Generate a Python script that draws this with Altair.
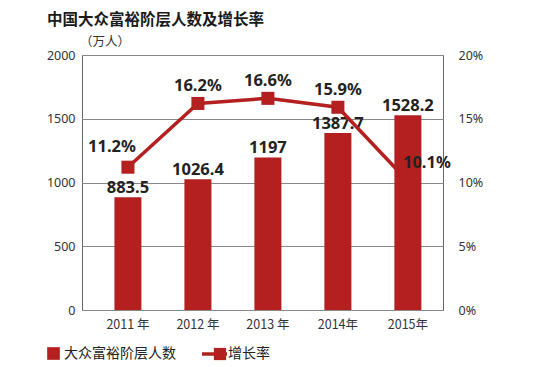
import altair as alt
import pandas as pd

title_text = "中国大众富裕阶层人数及增长率"
unit_text = "（万人）"
years = ["2011 年", "2012 年", "2013 年", "2014年", "2015年"]
people = [883.5, 1026.4, 1197, 1387.7, 1528.2]
people_labels = ["883.5", "1026.4", "1197", "1387.7", "1528.2"]
rates = [11.2, 16.2, 16.6, 15.9, 10.1]
rate_labels = ["11.2%", "16.2%", "16.6%", "15.9%", "10.1%"]
left_ticks = [0, 500, 1000, 1500, 2000]
right_ticks = [0, 0.05, 0.10, 0.15, 0.20]
legend_bar = "大众富裕阶层人数"
legend_line = "增长率"

RED = "#b3201f"
FONT = "Noto Sans CJK SC"
NUMFONT = "Noto Sans"

df = pd.DataFrame({
    "year": years,
    "people": people,
    "plabel": people_labels,
    "rate": [r / 100 for r in rates],
    "rlabel": rate_labels,
})

base = alt.Chart(df)
xenc = alt.X("year:N", sort=years,
             scale=alt.Scale(paddingInner=0.614, paddingOuter=0.386, align=0.6),
             axis=alt.Axis(title=None, labelAngle=0, ticks=False, domain=False,
                           labelFontSize=12.5, labelPadding=8, labelColor="#333",
                           labelFont=FONT))

yleft = alt.Y("people:Q", scale=alt.Scale(domain=[0, 2000]),
              axis=alt.Axis(title=None, values=left_ticks, format="d", grid=True, gridColor="#888",
                            gridWidth=1, ticks=False, domain=False, labelPadding=7,
                            labelFontSize=12.5, labelColor="#333", labelFont=NUMFONT))
yright = alt.Y("rate:Q", scale=alt.Scale(domain=[0, 0.2]),
               axis=alt.Axis(title=None, orient="right", values=right_ticks, format=".0%",
                             grid=False, ticks=False, domain=False, labelPadding=15,
                             labelFontSize=12.5, labelColor="#333", labelFont=NUMFONT))

bars = base.mark_bar(color=RED).encode(x=xenc, y=yleft)
bar_text = base.mark_text(fontSize=16.5, fontWeight="bold", font=NUMFONT, color="#222",
                          baseline="bottom", dy=-1).encode(x=xenc, y=yleft, text="plabel:N")

# annotations
ann = pd.DataFrame({"t": [title_text]})
title = alt.Chart(ann).mark_text(fontSize=15.5, fontWeight="bold", font=FONT, color="#1a1a1a",
                                 align="left", baseline="middle").encode(
    x=alt.value(-35), y=alt.value(-35), text="t:N")
unit = alt.Chart(pd.DataFrame({"t": [unit_text]})).mark_text(
    fontSize=12.5, font=FONT, color="#333", align="left", baseline="middle").encode(
    x=alt.value(-2), y=alt.value(-13), text="t:N")
leg_sq = alt.Chart(pd.DataFrame({"t": [legend_bar]})).mark_square(
    color=RED, size=160, opacity=1).encode(x=alt.value(-28.5), y=alt.value(298.5))
leg_txt = alt.Chart(pd.DataFrame({"t": [legend_bar]})).mark_text(
    fontSize=14, font=FONT, color="#222", align="left", baseline="middle").encode(
    x=alt.value(-18), y=alt.value(298.5), text="t:N")
leg_rule = alt.Chart(pd.DataFrame({"t": [legend_line]})).mark_rule(
    color=RED, strokeWidth=3.5).encode(x=alt.value(120), x2=alt.value(145), y=alt.value(299))
leg_sq2 = alt.Chart(pd.DataFrame({"t": [legend_line]})).mark_square(
    color=RED, size=150, opacity=1).encode(x=alt.value(138), y=alt.value(299))
leg_txt2 = alt.Chart(pd.DataFrame({"t": [legend_line]})).mark_text(
    fontSize=14, font=FONT, color="#222", align="left", baseline="middle").encode(
    x=alt.value(146), y=alt.value(298.5), text="t:N")

left = alt.layer(bars, bar_text, title, unit, leg_sq, leg_txt, leg_rule, leg_sq2, leg_txt2)

line = base.mark_line(color=RED, strokeWidth=3.5).encode(x=xenc, y=yright)
pts = base.mark_square(color=RED, size=170, opacity=1).encode(x=xenc, y=yright)
tstyle = dict(fontSize=16.5, fontWeight="bold", font=NUMFONT, color="#222", baseline="middle")
rt1 = base.transform_filter(alt.FieldOneOfPredicate(field="year", oneOf=[years[0]])).mark_text(
    dx=-16, dy=-20, **tstyle).encode(x=xenc, y=yright, text="rlabel:N")
rt2 = base.transform_filter(alt.FieldOneOfPredicate(field="year", oneOf=years[1:4])).mark_text(
    dx=0, dy=-17, **tstyle).encode(x=xenc, y=yright, text="rlabel:N")
rt3 = base.transform_filter(alt.FieldOneOfPredicate(field="year", oneOf=[years[4]])).mark_text(
    dx=19, dy=-18, **tstyle).encode(x=xenc, y=yright, text="rlabel:N")
right = alt.layer(line, pts, rt1, rt2, rt3)

chart = alt.layer(left, right).resolve_scale(y="independent").properties(
    width=361, height=255,
    autosize=alt.AutoSizeParams(type="none"),
    padding={"left": 74, "top": 47, "right": 89, "bottom": 56},
    background="white",
).configure_view(stroke="#666", strokeWidth=1)

chart.save("out.html", embed_options={"renderer": "svg", "actions": False})
